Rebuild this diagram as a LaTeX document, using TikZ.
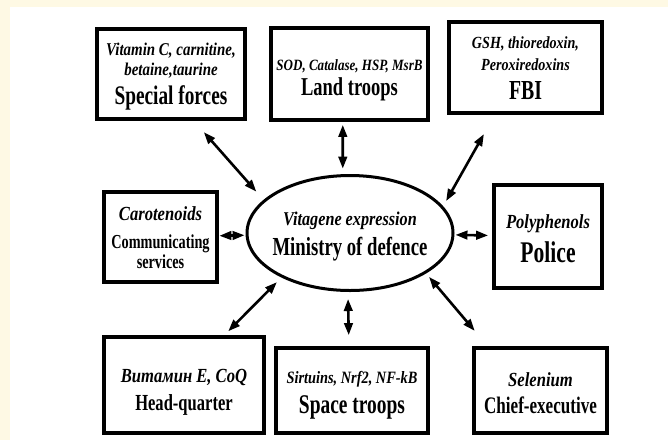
\documentclass[tikz,border=0pt]{standalone}
\usepackage{fontspec}
\setmainfont{Liberation Serif}[FakeStretch=0.72]
\newfontfamily\notefont{Liberation Serif}[FakeStretch=0.83]
\usepackage{xcolor}
\usetikzlibrary{arrows.meta,shapes.geometric}

\tikzset{
  box/.style={draw, line width=3.7pt, inner sep=0pt},
  unitlbl/.style={font=\bfseries\fontsize{#1}{#1}\selectfont, anchor=base, inner sep=0pt},
  agentlbl/.style={font=\notefont\bfseries\itshape\fontsize{#1}{#1}\selectfont, anchor=base, inner sep=0pt},
  dbl/.style={{Triangle[length=12pt,width=8.5pt]}-{Triangle[length=12pt,width=8.5pt]}, line width=2.6pt}
}

\begin{document}
\begin{tikzpicture}[x=1pt,y=-1pt]
\definecolor{cream}{HTML}{FEF9E4}
\useasboundingbox (0,0) rectangle (668,440);
\fill[cream] (0,0) rectangle (668,7);
\fill[cream] (0,0) rectangle (10,440);

% Boxes
\node[box, minimum width=148pt, minimum height=90pt] (sf) at (171,74) {};
\node[box, minimum width=157pt, minimum height=92pt] (lt) at (349.5,74) {};
\node[box, minimum width=153pt, minimum height=91pt] (fbi) at (525.5,67.5) {};
\node[box, minimum width=113pt, minimum height=90pt] (car) at (160.5,237) {};
\node[box, minimum width=108pt, minimum height=103pt] (pol) at (548,236.5) {};
\node[box, minimum width=160pt, minimum height=96pt] (hq) at (184,385) {};
\node[box, minimum width=152pt, minimum height=85pt] (st) at (352,390.5) {};
\node[box, minimum width=133pt, minimum height=85pt] (ce) at (540.5,390.5) {};
\node[draw, ellipse, line width=3pt, minimum width=206pt, minimum height=115pt] (mod) at (350,233) {};

% Agents
\foreach \n/\x/\y/\s/\t in {sf1/171/55/18/{Vitamin C, carnitine,}, sf2/171/75/18/{betaine,taurine},
  lt1/349.5/70/15.7/{SOD, Catalase, HSP, MsrB}, fbi1/525.5/48/17/{GSH, thioredoxin,},
  fbi2/525.5/70/17/{Peroxiredoxins}, car1/160.5/220/20/{Carotenoids},
  mod1/350/225/19.5/{Vitagene expression}, pol1/548/228/20/{Polyphenols},
  hq1/184/382/20/{Витамин E, CoQ}, st1/352/383/17.3/{Sirtuins, Nrf2, NF-kB},
  ce1/540.5/386/20/{Selenium}} {
  \node[agentlbl=\s] (\n) at (\x,\y) {\t};
}

% Units
\foreach \n/\x/\y/\s/\t in {sf3/171/104/26.8/{Special forces}, lt2/349.5/95/25.7/{Land troops},
  fbi3/525.5/99/27.5/{FBI}, car2/160.5/248/19.8/{Communicating}, car3/160.5/268/19.8/{services},
  mod2/350/255/26/{Ministry of defence}, pol2/548/262/30/{Police},
  hq2/184/410/23/{Head-quarter}, st2/352/413/27/{Space troops}, ce2/540.5/413/23.7/{Chief-executive}} {
  \node[unitlbl=\s] (\n) at (\x,\y) {\t};
}

% Add arrows
\foreach \a/\b/\s/\e in {sf.-64/mod.159.7/15/11, lt.-98/mod.97/3/5.5, fbi.-123.75/mod.16.5/22/6,
  car/mod/0.5/1, mod/pol/1/4, mod.213/hq.51.7/6.5/5.5, mod.-92/st.94/7/11, mod.-28.5/ce.140.95/4.5/20} {
  \draw[dbl, shorten <=\s pt, shorten >=\e pt] (\a) -- (\b);
}
\end{tikzpicture}
\end{document}
